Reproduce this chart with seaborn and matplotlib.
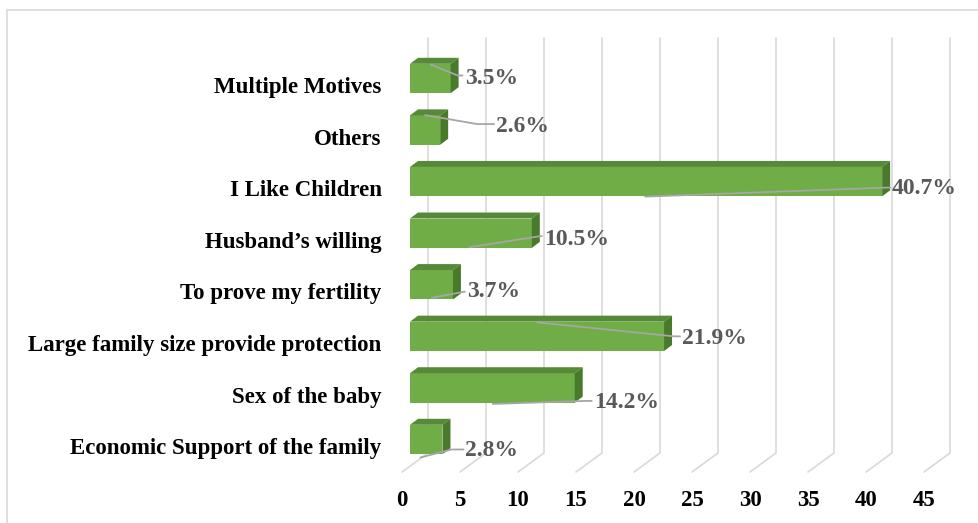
import numpy as np
import pandas as pd
import matplotlib
matplotlib.use('Agg')
import matplotlib.pyplot as plt
from matplotlib.patches import Polygon, Rectangle
import seaborn as sns

categories = ['Multiple Motives', 'Others', 'I Like Children', 'Husband\u2019s willing',
              'To prove my fertility', 'Large family size provide protection',
              'Sex of the baby', 'Economic Support of the family']
values = [3.5, 2.6, 40.7, 10.5, 3.7, 21.9, 14.2, 2.8]
labels = ['3.5%', '2.6%', '40.7%', '10.5%', '3.7%', '21.9%', '14.2%', '2.8%']
xticks = [0, 5, 10, 15, 20, 25, 30, 35, 40, 45]

# leader line / label placement, in pixels relative to bar end and bar centre
lead_start = [(-20, -14), (-15, -15), (-237, 15), (-62, 14), (-21, 13), (-127, -14), (-82, 16), (-22, 18)]
lead_end = [(7, -3), (37, -6), (3, 6), (8, 3), (11, 7), (10, 0), (11, 13), (9, 10)]
text_off = [(14, 0), (56, -4), (10, 7), (12, 6), (14, 7), (18, 2), (19, 15), (23, 11)]

df = pd.DataFrame({'motive': categories, 'pct': values})

sns.set_style('white')
plt.rcParams['font.family'] = ['Liberation Serif', 'DejaVu Serif']

W, H = 979, 523
fig = plt.figure(figsize=(W / 100, H / 100), dpi=100)
fig.patches.append(Rectangle((7 / W, -0.05), 1.1, 1 - 10 / H + 0.05, transform=fig.transFigure,
                             fill=False, edgecolor='#D9D9D9', linewidth=1.2))

# axes placed so that 1 unit = 11.6 px and 1 category = 51.57 px
x0, sx = 410, 11.6
y0, sy = 78.5, 51.57
L, R, T, B = 390, 975, 30, 480
ax = fig.add_axes([L / W, 1 - B / H, (R - L) / W, (B - T) / H])

sns.barplot(data=df, x='pct', y='motive', orient='h', color='#70AD47', saturation=1,
            width=0.57, ax=ax, zorder=2, linewidth=0)
ax.set_xlim((L - x0) / sx, (R - x0) / sx)
ax.set_ylim((B - y0) / sy, (T - y0) / sy)

# depth of bars and of the back wall / floor
ddx, ddy = 8 / sx, -6 / sy
back_dx, back_top, back_bot = 18 / sx, (38 - y0) / sy, (453 - y0) / sy
floor_dx, floor_y = -8 / sx, (472 - y0) / sy

for t in xticks:
    ax.plot([t + back_dx, t + back_dx, t + floor_dx], [back_top, back_bot, floor_y],
            color='#D9D9D9', lw=1.2, zorder=0.5, solid_joinstyle='miter')

for p in ax.patches[:len(values)]:
    x, y, w, h = p.get_x(), p.get_y(), p.get_width(), p.get_height()
    top = Polygon([(x, y), (x + w, y), (x + w + ddx, y + ddy), (x + ddx, y + ddy)],
                  closed=True, facecolor='#558A36', edgecolor='none', zorder=2)
    side = Polygon([(x + w, y), (x + w + ddx, y + ddy), (x + w + ddx, y + h + ddy), (x + w, y + h)],
                   closed=True, facecolor='#497A2B', edgecolor='none', zorder=2)
    ax.add_patch(top)
    ax.add_patch(side)

for i, (v, lab) in enumerate(zip(values, labels)):
    sx0, sy0 = v + lead_start[i][0] / sx, i + lead_start[i][1] / sy
    ex, ey = v + lead_end[i][0] / sx, i + lead_end[i][1] / sy
    tx, ty = v + text_off[i][0] / sx, i + text_off[i][1] / sy
    ax.plot([sx0, ex, tx - 2 / sx], [sy0, ey, ey], color='#A6A6A6', lw=1.3, zorder=3)
    ax.text(tx, ty, lab, ha='left', va='center', fontsize=17, fontweight='bold',
            color='#595959', zorder=4)

ax.set_yticks(np.arange(len(categories)) + 0.13, labels=categories)
ax.set_xticks(np.array(xticks) + floor_dx, labels=[str(t) for t in xticks])
ax.tick_params(axis='y', length=0, pad=6, labelsize=16.5)
ax.tick_params(axis='x', length=0, pad=7, labelsize=16.5)
for lbl in ax.get_yticklabels() + ax.get_xticklabels():
    lbl.set_fontweight('bold')
    lbl.set_color('black')
ax.set_xlabel('')
ax.set_ylabel('')
sns.despine(ax=ax, left=True, bottom=True)
ax.patch.set_alpha(0)

fig.savefig('out.png', dpi=100)
